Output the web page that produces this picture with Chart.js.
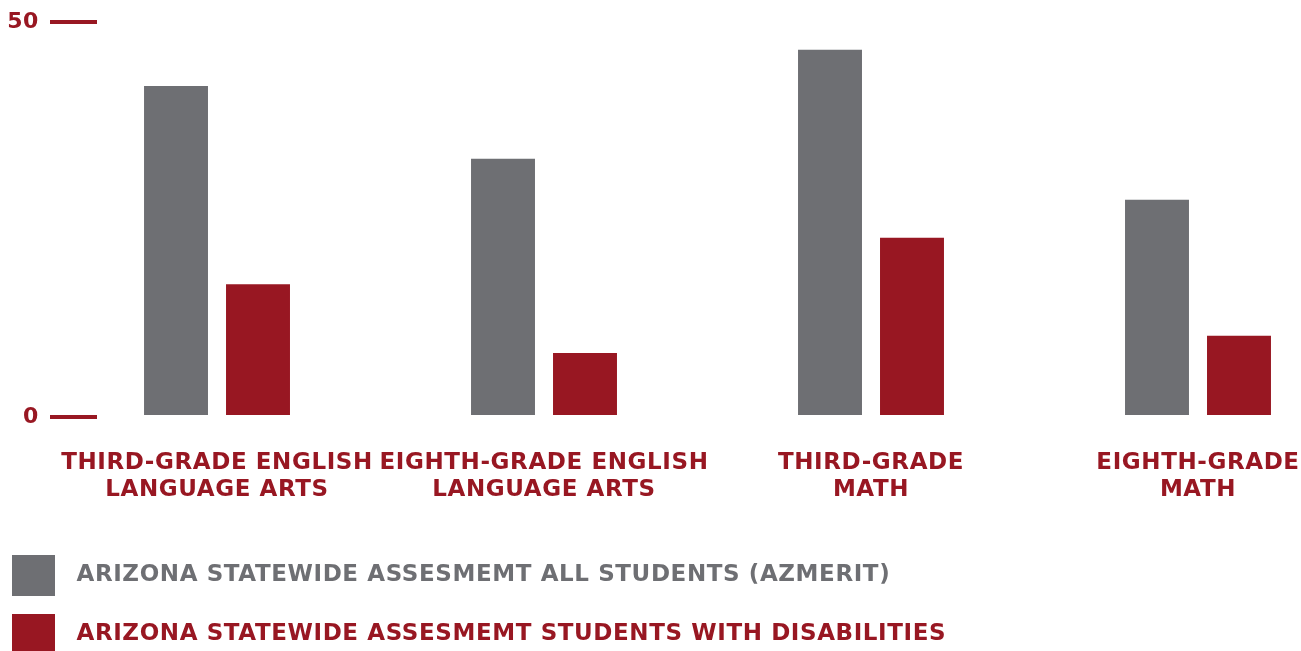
<!DOCTYPE html>
<html>
<head>
<meta charset="utf-8">
<style>
  html, body { margin: 0; padding: 0; background: #ffffff; }
  canvas { display: block; }
</style>
<script src="https://cdn.jsdelivr.net/npm/chart.js@4.4.1/dist/chart.umd.min.js"></script>
</head>
<body>
<canvas id="c" width="1301" height="651" style="width:1301px;height:651px"></canvas>
<script>
// ---- data ----
const CATEGORIES = [
  ['THIRD-GRADE ENGLISH', 'LANGUAGE ARTS'],
  ['EIGHTH-GRADE ENGLISH', 'LANGUAGE ARTS'],
  ['THIRD-GRADE', 'MATH'],
  ['EIGHTH-GRADE', 'MATH']
];
const SERIES_NAMES = [
  'ARIZONA STATEWIDE ASSESMEMT ALL STUDENTS (AZMERIT)',
  'ARIZONA STATEWIDE ASSESMEMT STUDENTS WITH DISABILITIES'
];
const ALL_STUDENTS = [41.9, 32.7, 46.5, 27.5];
const WITH_DISABILITIES = [16.8, 8.1, 22.7, 10.3];
const Y_TICKS = [0, 50];

// ---- styles ----
const GRAY = '#6e6f73';
const RED = '#981722';
const FONT = "'DejaVu Sans', 'Liberation Sans', Arial, sans-serif";

function swatch(color) {
  const c = document.createElement('canvas');
  c.width = 53; c.height = 41;
  const g = c.getContext('2d');
  g.fillStyle = color;
  g.fillRect(0, 0, 43, 41);
  return c;
}
const SWATCHES = [swatch(GRAY), swatch(RED)];
const LEGEND_TEXT = [GRAY, RED];

const spacingPlugin = {
  id: 'spacing',
  beforeUpdate(chart) { chart.ctx.letterSpacing = '0.6px'; },
  beforeDraw(chart) { chart.ctx.letterSpacing = '0.6px'; }
};

const toPoints = (arr) => arr.map((v, i) => ({ x: i, y: v }));

new Chart(document.getElementById('c'), {
  type: 'bar',
  data: {
    datasets: [
      { label: SERIES_NAMES[0], data: toPoints(ALL_STUDENTS), backgroundColor: GRAY,
        categoryPercentage: 0.5015, barPercentage: 0.78 },
      { label: SERIES_NAMES[1], data: toPoints(WITH_DISABILITIES), backgroundColor: RED,
        categoryPercentage: 0.5015, barPercentage: 0.78 }
    ]
  },
  options: {
    responsive: false,
    animation: false,
    layout: { padding: { top: 22, bottom: -5, left: -24, right: 0 } },
    plugins: {
      tooltip: { enabled: false },
      legend: {
        position: 'bottom',
        align: 'start',
        labels: {
          usePointStyle: true,
          pointStyleWidth: 53,
          padding: 36,
          font: { family: FONT, size: 23, weight: 'bold' },
          generateLabels: (chart) => chart.data.datasets.map((ds, i) => ({
            text: ds.label,
            fillStyle: ds.backgroundColor,
            strokeStyle: ds.backgroundColor,
            lineWidth: 0,
            hidden: false,
            datasetIndex: i,
            pointStyle: SWATCHES[i],
            fontColor: LEGEND_TEXT[i]
          }))
        }
      }
    },
    scales: {
      x: {
        type: 'linear',
        offset: false,
        min: -0.367,
        max: 3.315,
        grid: { display: false, drawTicks: false },
        border: { display: false },
        ticks: {
          stepSize: 1,
          includeBounds: false,
          autoSkip: false,
          maxRotation: 0,
          minRotation: 0,
          padding: 33,
          color: RED,
          font: { family: FONT, size: 23, weight: 'bold', lineHeight: '27px' },
          callback: (v) => CATEGORIES[v] || ''
        },
        afterFit: (s) => { s.height = 111; s.paddingLeft = 0; s.paddingRight = 0; }
      },
      y: {
        min: 0,
        max: 50,
        grid: { drawOnChartArea: false, drawTicks: true, tickLength: 47, lineWidth: 4, color: RED },
        border: { display: false },
        afterBuildTicks: (s) => { s.ticks = Y_TICKS.map(v => ({ value: v })); },
        ticks: {
          padding: 11,
          color: RED,
          font: { family: FONT, size: 22, weight: 'bold' }
        },
        afterFit: (s) => { s.width = 121; s.paddingTop = 0; s.paddingBottom = 0; }
      }
    }
  },
  plugins: [spacingPlugin]
});
</script>
</body>
</html>
